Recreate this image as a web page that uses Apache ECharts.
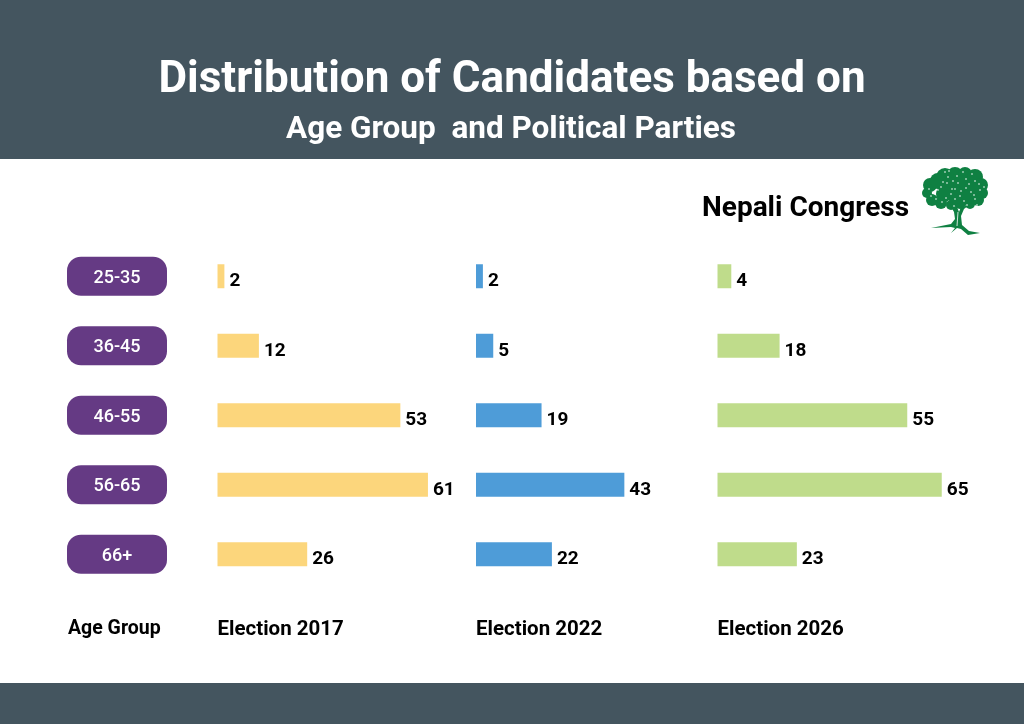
<!DOCTYPE html>
<html><head><meta charset="utf-8">
<style>html,body{margin:0;padding:0;background:#fff}#c{width:1024px;height:724px}</style>
<script src="https://cdn.jsdelivr.net/npm/echarts@6/dist/echarts.min.js"></script>
</head><body><div id="c"></div>
<script>
const ageGroups = ['25-35','36-45','46-55','56-65','66+'];
const years = ['Election 2017','Election 2022','Election 2026'];
const values2017 = [2,12,53,61,26];
const values2022 = [2,5,19,43,22];
const values2026 = [4,18,55,65,23];
const barColors = ['#FCD67C','#4E9CD8','#BFDC8B'];
const UI = "Roboto";
const chart = echarts.init(document.getElementById('c'), null, {renderer:'canvas'});
const lefts = [217.5,476,717.5];
const all = [values2017,values2022,values2026];
const grids = lefts.map(l=>({left:l,width:241.5,top:241.5,height:347.5,containLabel:false}));
const xAxes = lefts.map((_,i)=>({gridIndex:i,type:'value',min:0,max:70,show:false}));
const yAxes = lefts.map((_,i)=>({gridIndex:i,type:'category',inverse:true,data:ageGroups,
  axisLine:{show:false},axisTick:{show:false},splitLine:{show:false},
  axisLabel: i===0 ? {show:true,margin:100.5,align:'center',verticalAlign:'middle',formatter:v=>'{p|'+v+'}',
    rich:{p:{width:100,height:35,lineHeight:35,padding:[4,0,0,0],align:'center',verticalAlign:'middle',backgroundColor:'#653A84',borderRadius:14,color:'#fff',
    fontFamily:UI,fontWeight:500,fontSize:18}}} : {show:false}}));
const series = all.map((d,i)=>({type:'bar',xAxisIndex:i,yAxisIndex:i,data:d,barWidth:24,
  itemStyle:{color:barColors[i]},silent:true,
  label:{show:true,position:'right',distance:5,offset:[0,5],color:'#000',fontFamily:UI,fontWeight:700,fontSize:19}}));
const crown = [[945,177,9],[955,175,8],[965,174,7],[975,177,8],[981,185,7],[982,193,6],[978,200,6],[970,204,5],[960,203,6],[951,205,5],[941,203,6],[932,200,6],[927,193,5],[930,185,7],[938,181,8],[950,186,9],[962,184,9],[973,188,9],[956,195,9],[944,194,8],[968,197,7]];
const specks = [[948,177],[957,176],[966,179],[975,181],[941,187],[952,189],[961,191],[971,192],[980,190],[935,194],[946,198],[955,199],[964,201],[975,199],[969,184],[958,183],[949,171],[936,199],[984,187],[943,182],[963,172],[929,189],[977,205],[954,206],[951,194],[967,205],[945,172],[972,174],[938,190],[947,183],[955,189],[966,188],[974,195],[960,196],[942,202],[931,196],[979,184],[953,181]];
const treeColor = '#0F8042';
const trunk = [[950,205],[954,212],[955,219],[951,224],[931,228],[951,227],[955,228],[951,233],[957,228],[961,229],[968,235],[980,233],[969,231],[962,225],[961,216],[964,209],[969,205],[961,207],[959,212],[957,207]];
const graphic = [
  {type:'rect',shape:{x:0,y:0,width:1024,height:159},style:{fill:'#44555F'},z:0},
  {type:'rect',shape:{x:0,y:683,width:1024,height:41},style:{fill:'#44555F'},z:0},
  ...crown.map(c=>({type:'circle',shape:{cx:c[0],cy:c[1],r:c[2]},style:{fill:treeColor},z:1})),
  ...specks.map(s=>({type:'circle',shape:{cx:s[0],cy:s[1],r:0.8},style:{fill:'#fff'},z:2})),
  {type:'polygon',shape:{points:trunk},style:{fill:treeColor},z:1},
  {type:'line',shape:{x1:957,y1:226,x2:958,y2:212},style:{stroke:'#fff',lineWidth:.8},z:2}
];
const titles = [
  {text:'Distribution of Candidates based on',left:512,top:59,textAlign:'center',textStyle:{color:'#fff',fontFamily:UI,fontWeight:700,fontSize:44}},
  {text:'Age Group  and Political Parties',left:511,top:114,textAlign:'center',textStyle:{color:'#fff',fontFamily:UI,fontWeight:700,fontSize:31.5}},
  {text:'Nepali Congress',left:702,top:195,textStyle:{color:'#000',fontFamily:UI,fontWeight:700,fontSize:28}},
  {text:'Age Group',left:68,top:619,textStyle:{color:'#000',fontFamily:UI,fontWeight:700,fontSize:19.5}},
  ...years.map((y,i)=>({text:y,left:lefts[i],top:619,textStyle:{color:'#000',fontFamily:UI,fontWeight:700,fontSize:20.5}}))
].map(t=>Object.assign(t,{padding:0}));
chart.setOption({animation:false,backgroundColor:'#fff',title:titles,grid:grids,xAxis:xAxes,yAxis:yAxes,series,graphic});
</script></body></html>
